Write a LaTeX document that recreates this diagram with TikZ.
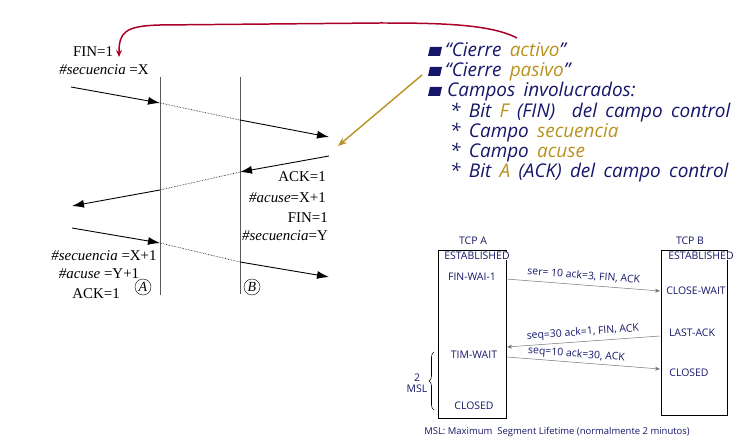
\documentclass[tikz,border=0pt]{standalone}
\usepackage{fontspec}
\setmainfont{Liberation Serif}
\newfontfamily\comicfont{Open Sans}
\usetikzlibrary{arrows.meta,calc,positioning,decorations.pathreplacing}
\definecolor{azulosc}{RGB}{22,22,105}
\definecolor{oro}{RGB}{185,145,30}
\definecolor{rojo}{RGB}{170,0,40}

\begin{document}
\begin{tikzpicture}[x=1bp, y=-1bp,
  lbl/.style={font=\fontsize{15}{17}\selectfont, inner sep=0pt},
  flecha/.style={line width=0.9pt, -{Latex[length=12bp,width=8bp]}},
  punteada/.style={densely dotted, line width=0.6pt},
  eje/.style={draw=black!65, line width=0.9pt},
  item/.style={font={\fontsize{19}{21}\selectfont\comicfont\itshape\spaceskip=0.44em plus 0.1em\relax}, text=azulosc, anchor=base west, inner sep=0pt},
  est/.style={font=\fontsize{10.5}{11}\selectfont\comicfont, text=azulosc, inner sep=0.5pt},
  msg/.style={draw=black!55, line width=0.5pt, -{Stealth[length=5bp,width=4bp]}},
  caja/.style={draw, line width=0.8pt, anchor=north west, inner sep=0pt}]
\useasboundingbox (0,0) rectangle (756,443);

% --- lineas de tiempo A y B ---
\coordinate (Atop) at (160,77);
\coordinate (Abot) at (160,295);
\coordinate (Btop) at (240,77);
\coordinate (Bbot) at (240,294);
\draw[eje] (Atop) -- (Abot);
\draw[eje] (Btop) -- (Bbot);
\node[circle, draw, minimum size=16bp, inner sep=0pt, font=\fontsize{14}{14}\selectfont\itshape] (circA) at (143,287) {A};
\node[circle, draw, minimum size=16bp, inner sep=0pt, font=\fontsize{14}{14}\selectfont\itshape] (circB) at (252,287) {B};

% segmento 1: FIN de A
\coordinate (s1a) at (71,87);
\coordinate (s1b) at (160,103);
\coordinate (s1c) at (240,120);
\coordinate (s1d) at (329,137);
\draw[flecha] (s1a) -- (s1b);
\draw[punteada] (s1b) -- (s1c);
\draw[flecha] (s1c) -- (s1d);

% segmento 2: ACK + FIN de B
\coordinate (s2a) at (329,156);
\coordinate (s2b) at (240,172);
\coordinate (s2c) at (160,190);
\coordinate (s2d) at (72,206);
\draw[flecha] (s2a) -- (s2b);
\draw[punteada] (s2b) -- (s2c);
\draw[flecha] (s2c) -- (s2d);

% segmento 3: ACK final
\coordinate (s3a) at (72,228);
\coordinate (s3b) at (160,243);
\coordinate (s3c) at (240,262);
\coordinate (s3d) at (329,277);
\draw[flecha] (s3a) -- (s3b);
\draw[punteada] (s3b) -- (s3c);
\draw[flecha] (s3c) -- (s3d);

% etiquetas
\node[lbl] (fin1) at (93,52) {FIN=1};
\node[lbl] (secX) at (104,70) {\textit{\#secuencia} =X};
\node[lbl, anchor=east] (ackB) at (326,177) {ACK=1};
\node[lbl, anchor=east] (acuseB) at (326,198) {\textit{\#acuse}=X+1};
\node[lbl, anchor=east] (finB) at (328,218) {FIN=1};
\node[lbl, anchor=east] (secY) at (328,236) {\textit{\#secuencia}=Y};
\node[lbl] (secX1) at (104,256) {\textit{\#secuencia} =X+1};
\node[lbl] (acuseY) at (99,274) {\textit{\#acuse} =Y+1};
\node[lbl] (ackA) at (96,294) {ACK=1};

% flechas de llamada
\coordinate (rojoIni) at (517,38);
\coordinate (rojoFin) at (119,57);
\draw[rojo, line width=1.5pt, -{Stealth[length=7bp,width=6bp]}]
  (rojoIni) .. controls (490,24) and (440,23) .. (380,23) -- (160,25)
  .. controls (125,26) and (119,32) .. (rojoFin);
\coordinate (oroIni) at (422,75);
\coordinate (oroFin) at (338,146);
\draw[oro, line width=1.4pt, -{Stealth[length=9bp,width=7bp]}] (oroIni) -- (oroFin);

% --- lista ---
\fill[azulosc] (430,47) -- (442,47) -- (440,56) -- (428,56) -- cycle;
\fill[azulosc] (430,67) -- (442,67) -- (440,76) -- (428,76) -- cycle;
\fill[azulosc] (430,87) -- (442,87) -- (440,96) -- (428,96) -- cycle;
\node[item] (it1) at (445,57) {“Cierre \textcolor{oro}{activo}”};
\node[item] (it2) at (445,77) {“Cierre \textcolor{oro}{pasivo}”};
\node[item] (it3) at (447,97) {Campos involucrados:};
\node[item] (it4) at (450,118) {* Bit \textcolor{oro}{F} (FIN)\ \ del campo control};
\node[item] (it5) at (450,138) {* Campo \textcolor{oro}{secuencia}};
\node[item] (it6) at (450,158) {* Campo \textcolor{oro}{acuse}};
\node[item] (it7) at (450,178) {* Bit \textcolor{oro}{A} (ACK) del campo control};

% --- TCP A / TCP B ---
\node[caja, minimum width=68bp, minimum height=168bp] (cajaA) at (438,250) {};
\node[caja, minimum width=66bp, minimum height=165bp] (cajaB) at (661,250) {};
\node[est] (tcpA) at (473,241) {TCP A};
\node[est] (tcpB) at (690,241) {TCP B};
\node[est, fill=white] (estA) at (477,256) {ESTABLISHED};
\node[est] (finwait) at (472,277) {FIN-WAI-1};
\node[est] (timwait) at (474,355) {TIM-WAIT};
\node[est] (closedA) at (474,406) {CLOSED};
\node[est, fill=white] (estB) at (701,256) {ESTABLISHED};
\node[est, fill=white] (closewait) at (696,291) {CLOSE-WAIT};
\node[est] (lastack) at (692,333) {LAST-ACK};
\node[est] (closedB) at (689,373) {CLOSED};

\coordinate (m1a) at (506,279);
\coordinate (m1b) at (660,291);
\coordinate (m2a) at (660,336);
\coordinate (m2b) at (507,347);
\coordinate (m3a) at (507,357);
\coordinate (m3b) at (660,369);
\draw[msg] (m1a) -- node[est, midway, above=4bp, sloped] (lab1) {ser= 10 ack=3, FIN, ACK} (m1b);
\draw[msg] (m2a) -- node[est, midway, above=3bp, sloped] (lab2) {seq=30 ack=1, FIN, ACK} (m2b);
\draw[msg] (m3a) -- node[est, pos=0.45, above=2bp, sloped] (lab3) {seq=10 ack=30, ACK} (m3b);

% 2 MSL
\coordinate (llaveIni) at (434,410);
\coordinate (llaveFin) at (434,352);
\draw[decorate, decoration={brace, amplitude=5bp}, line width=0.6pt] (llaveIni) -- (llaveFin);
\node[est, align=center] (msl) at (417,383) {2\\MSL};
\node[est, font=\fontsize{9.5}{10.5}\selectfont\comicfont] (nota) at (557,432) {MSL: Maximum\ \ Segment Lifetime (normalmente 2 minutos)};

\end{tikzpicture}
\end{document}
